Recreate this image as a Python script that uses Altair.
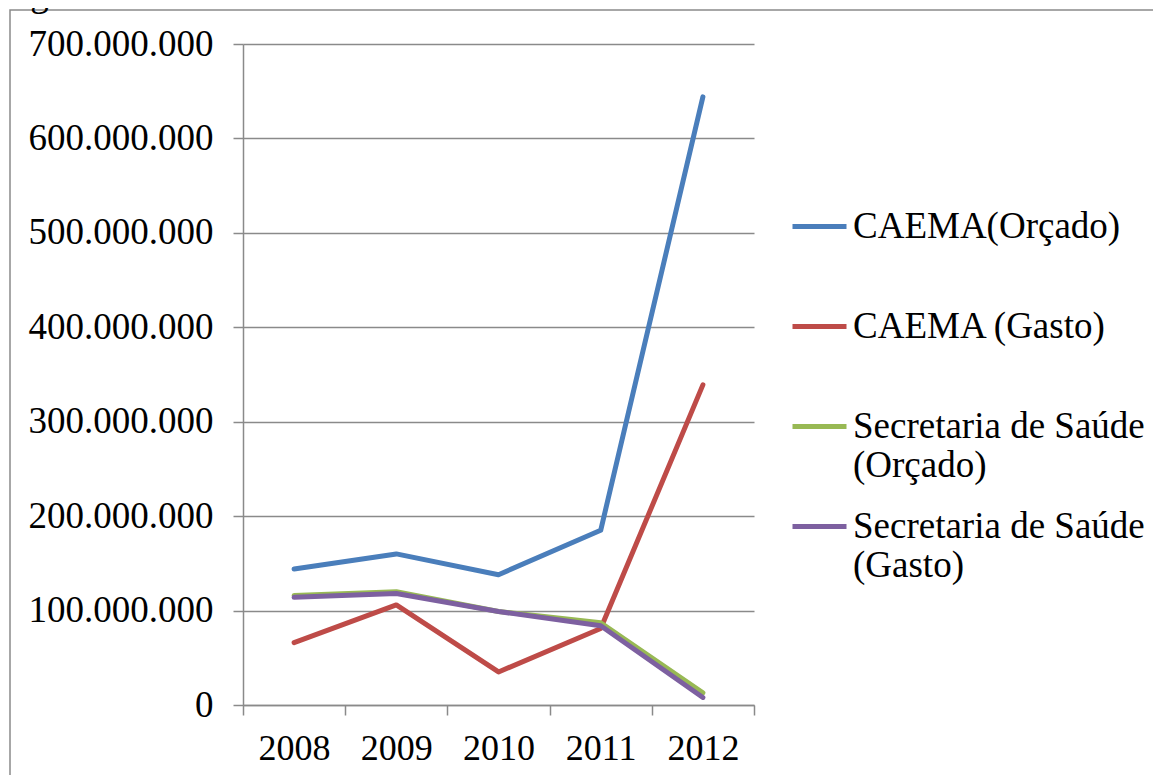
import altair as alt
import pandas as pd

years = ["2008", "2009", "2010", "2011", "2012"]
caema_orcado = [144e6, 160e6, 138e6, 185e6, 644e6]
caema_gasto = [66e6, 106e6, 35e6, 81e6, 339e6]
saude_orcado = [116e6, 120e6, 99e6, 87e6, 13e6]
saude_gasto = [114e6, 118e6, 99e6, 84e6, 8e6]

series_names = [
    "CAEMA(Orçado)",
    "CAEMA (Gasto)",
    "Secretaria de Saúde|(Orçado)",
    "Secretaria de Saúde|(Gasto)",
]
series_values = [caema_orcado, caema_gasto, saude_orcado, saude_gasto]
colors = ["#4A7EBB", "#BE4B48", "#98B954", "#7D60A0"]
y_ticks = [0, 100e6, 200e6, 300e6, 400e6, 500e6, 600e6, 700e6]

rows = []
for name, vals in zip(series_names, series_values):
    for yr, v in zip(years, vals):
        rows.append({"ano": yr, "valor": v, "serie": name})
df = pd.DataFrame(rows)

FONT = "Liberation Serif"
GRAY = "#8a8a8a"

x_enc = alt.X(
    "ano:O",
    sort=years,
    scale=alt.Scale(type="band", paddingInner=0, paddingOuter=0),
    axis=alt.Axis(
        title=None, labelAngle=0, tickBand="extent", tickSize=10,
        labelPadding=16, labelFont=FONT, labelFontSize=36, labelColor="black",
        domainColor=GRAY, tickColor=GRAY, domainWidth=1.5, tickWidth=1.5, grid=False,
    ),
)
y_enc = alt.Y(
    "valor:Q",
    scale=alt.Scale(domain=[0, 700e6], nice=False),
    axis=alt.Axis(
        title=None, values=y_ticks, tickSize=10, labelPadding=20, labelLimit=400,
        labelExpr="replace(format(datum.value, ',d'), /,/g, '.')",
        labelFont=FONT, labelFontSize=37, labelColor="black",
        domainColor=GRAY, tickColor=GRAY, gridColor=GRAY,
        domainWidth=1.5, tickWidth=1.5, gridWidth=1.5,
    ),
)
color_enc = alt.Color(
    "serie:N",
    scale=alt.Scale(domain=series_names, range=colors),
    legend=alt.Legend(
        orient="none", legendX=547, legendY=153, title=None,
        symbolType="stroke", symbolSize=2916, symbolStrokeWidth=5,
        labelFont=FONT, labelFontSize=37, labelColor="black",
        labelOffset=4, labelLimit=600,
        labelExpr="split(datum.label, '|')",
        gridAlign="all", rowPadding=13,
    ),
)

layers = []
for name in series_names:
    layers.append(
        alt.Chart(df)
        .transform_filter(alt.datum.serie == name)
        .mark_line(strokeWidth=5, strokeCap="round", strokeJoin="round")
        .encode(x=x_enc, y=y_enc, color=color_enc)
    )

border = alt.Chart(pd.DataFrame({"k": [0]})).mark_rect(
    fillOpacity=0, stroke=GRAY, strokeWidth=1.5, clip=False
).encode(
    x=alt.value(-233), x2=alt.value(1100), y=alt.value(-34), y2=alt.value(900)
)

orgao = alt.Chart(pd.DataFrame({"t": ["órgão"]})).mark_text(
    font=FONT, fontSize=37, align="left", baseline="alphabetic", color="black", clip=False
).encode(x=alt.value(-243), y=alt.value(-38), text="t:N")

chart = (
    alt.layer(border, orgao, *layers)
    .properties(
        width=511, height=661,
        autosize=alt.AutoSizeParams(type="none"),
        padding={"left": 235, "top": 36, "right": 399, "bottom": 70},
    )
    .configure_view(strokeWidth=0)
)

chart.save("out.html", embed_options={"renderer": "svg", "actions": False})
